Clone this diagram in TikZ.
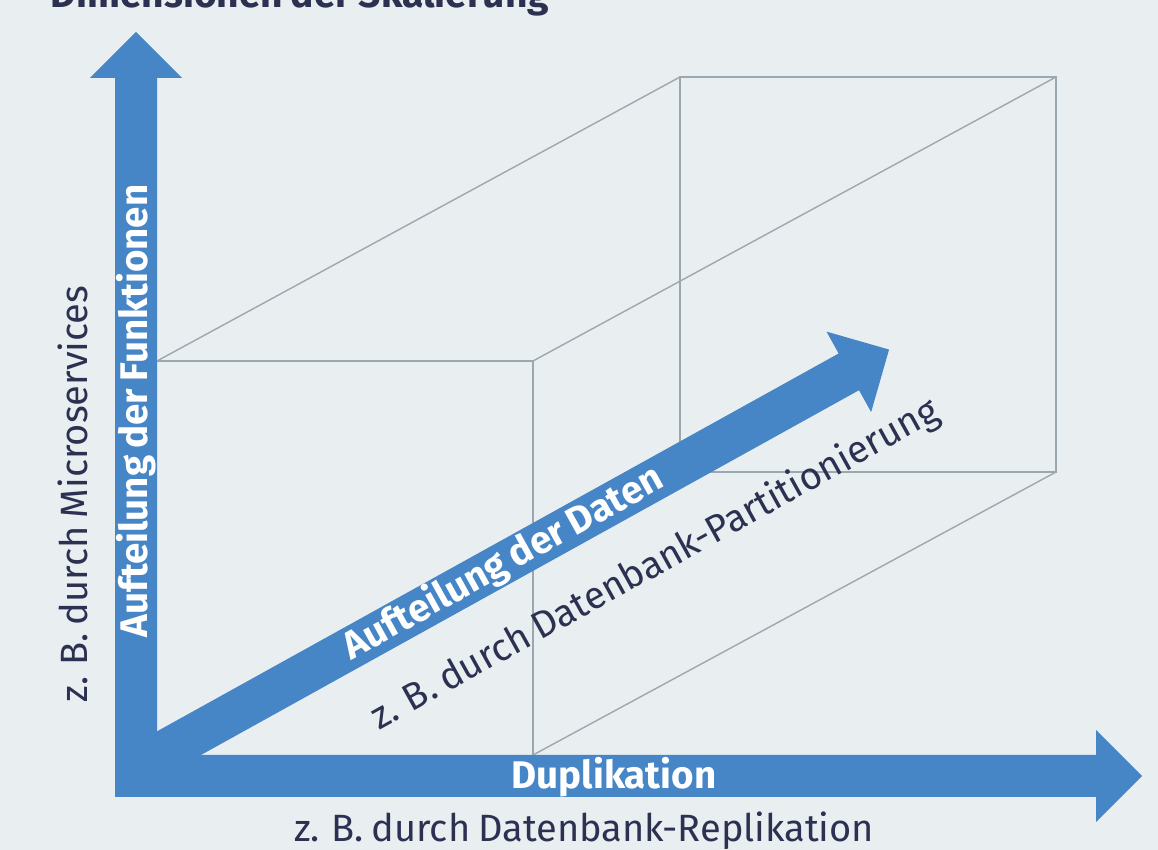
\documentclass[tikz,border=0pt]{standalone}
\usepackage{fontspec}
\setmainfont{Fira Sans}[WordSpace=0.8]
\definecolor{achse}{HTML}{4686C6}
\definecolor{schrift}{HTML}{2C3152}
\definecolor{grund}{HTML}{E9EEF1}
\definecolor{kante}{HTML}{9CA8B0}

\begin{document}
\begin{tikzpicture}[x=1pt,y=1pt]
  \tikzstyle{pfeil}=[fill=achse,draw=none]
  \tikzstyle{k}=[draw=kante,line width=1.4pt]
  \tikzstyle{fett}=[text=white,font=\fontsize{38.5}{44}\selectfont\bfseries,inner sep=0pt]
  \tikzstyle{hinweis}=[text=schrift,font=\fontsize{38}{44}\selectfont,inner sep=0pt]

  \fill[grund] (0,0) rectangle (1158,850);
  \useasboundingbox (0,0) rectangle (1158,850);

  % Quader
  \coordinate (v1) at (157,489);
  \coordinate (v2) at (533,489);
  \coordinate (v3) at (533,95);
  \coordinate (v4) at (157,95);
  \coordinate (h1) at (680,773);
  \coordinate (h2) at (1056,773);
  \coordinate (h3) at (1056,378);
  \coordinate (h4) at (680,378);
  \draw[k] (v1) -- (v2) -- (v3);
  \draw[k] (h1) -- (h2) -- (h3) -- (h4) -- cycle;
  \draw[k] (v1) -- (h1) (v2) -- (h2) (v3) -- (h3) (v4) -- (h4);

  % Achsen
  \fill[pfeil] (115,53) -- (115,772) -- (90,772) -- (136,818) -- (182,772)
    -- (157,772) -- (157,53) -- cycle;
  \fill[pfeil] (115,53) -- (1096,53) -- (1096,28) -- (1142,74) -- (1096,120)
    -- (1096,95) -- (115,95) -- cycle;
  \begin{scope}[shift={(136,83)},rotate=29]
    \fill[pfeil] (0,-21) -- (815,-21) -- (815,-46) -- (861,0) -- (815,46)
      -- (815,21) -- (0,21) -- cycle;
    \node[fett,rotate=29] (daten) at (420,0) {Aufteilung der Daten};
    \node[hinweis,rotate=29] (partition) at (552,-75) {z. B. durch Datenbank-Partitionierung};
  \end{scope}

  \node[fett,rotate=90] (funktionen) at (136,439) {Aufteilung der Funktionen};
  \node[hinweis,rotate=90] (microservices) at (73,356) {z. B. durch Microservices};
  \node[fett,anchor=base] (duplikation) at (614,61) {Duplikation};
  \node[hinweis,anchor=base] (replikation) at (584,8) {z. B. durch Datenbank-Replikation};
  \node[text=schrift,font=\fontsize{39}{44}\selectfont\bfseries,anchor=base] (titel)
    at (300,842) {Dimensionen der Skalierung};
\end{tikzpicture}
\end{document}
